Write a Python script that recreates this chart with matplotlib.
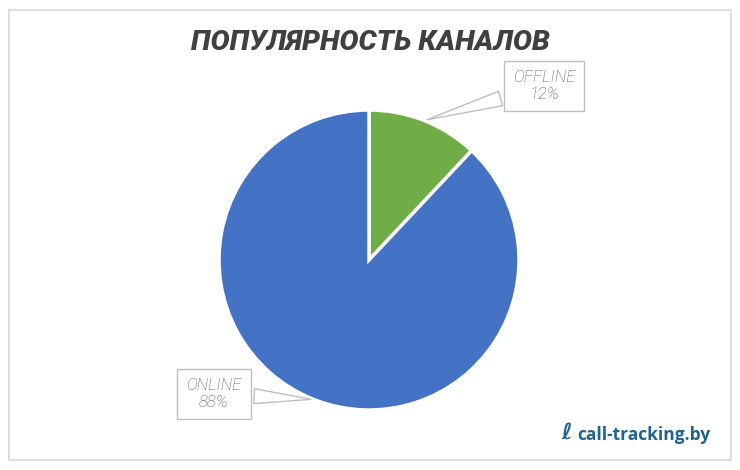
import matplotlib.pyplot as plt
from matplotlib.patches import Rectangle
import numpy as np

plt.rcParams["font.family"] = ["Roboto", "DejaVu Sans"]

labels = ["OFFLINE", "ONLINE"]
shares = [12, 88]
colors = ["#70AD47", "#4472C4"]
title = "ПОПУЛЯРНОСТЬ КАНАЛОВ"
brand = "call-tracking.by"

W, H = 740, 470
cx, cy, r = 369, 210, 150  # pie centre (from bottom) and radius in px

fig = plt.figure(figsize=(W / 100, H / 100), dpi=100)
ax = fig.add_axes([0, 0, 1, 1])

# chart frame
fig.patches.append(Rectangle((9 / W, 10 / H), 722 / W, 450 / H, transform=fig.transFigure,
                             fill=False, ec="#d9d9d9", lw=1.2))

wedges, _ = ax.pie(shares, colors=colors, startangle=90, counterclock=False, radius=1,
                   wedgeprops=dict(edgecolor="white", linewidth=2.5))
ax.set_xlim(-cx / r, (W - cx) / r)
ax.set_ylim(-cy / r, (H - cy) / r)
ax.axis("off")

# callout label positions (data units, pie radius = 1)
label_pos = [(1.167, 1.16), (-1.033, -0.893)]
for w, lab, val, pos in zip(wedges, labels, shares, label_pos):
    mid = np.deg2rad((w.theta1 + w.theta2) / 2)
    ax.annotate(f"{lab}\n{val}%", xy=(np.cos(mid), np.sin(mid)), xytext=pos,
                ha="center", va="center", fontsize=12, style="italic", fontweight="light",
                color="#595959", linespacing=1.2,
                bbox=dict(boxstyle="square,pad=0.55", fc="white", ec="#bfbfbf", lw=1),
                arrowprops=dict(arrowstyle="wedge,tail_width=0.9,shrink_factor=0.5",
                                fc="white", ec="#bfbfbf", lw=1))

fig.text(370 / W, 1 - 42 / H, title, ha="center", va="center", fontsize=20.5,
         fontweight="black", style="italic", color="#404040")

fig.text(577 / W, 1 - 435 / H, brand, ha="left", va="center", fontsize=12.5,
         fontweight="bold", color="#1f6391", family=["Open Sans", "DejaVu Sans"])
fig.text(567 / W, 1 - 433 / H, "ℓ", ha="center", va="center", fontsize=16,
         fontweight="bold", color="#1f6391", family=["DejaVu Sans"])

fig.savefig("out.png", dpi=100)
